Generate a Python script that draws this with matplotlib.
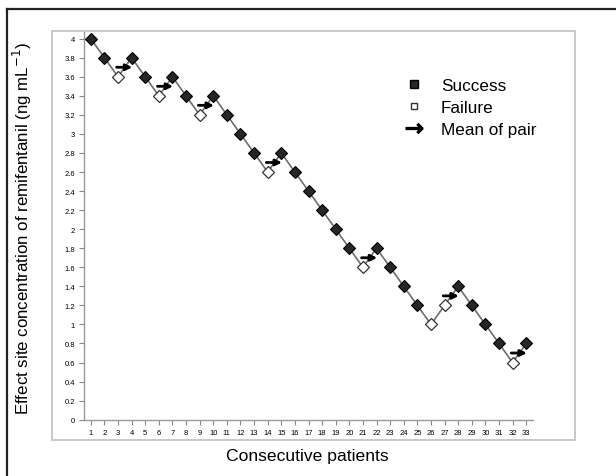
import numpy as np
import matplotlib.pyplot as plt
from matplotlib.lines import Line2D
from matplotlib.patches import Rectangle

plt.rcParams['font.family'] = ['Liberation Sans', 'DejaVu Sans']

# up-and-down sequence, one value per patient
patients = np.arange(1, 34)
conc = [4.0, 3.8, 3.6, 3.8, 3.6, 3.4, 3.6, 3.4, 3.2, 3.4, 3.2, 3.0, 2.8, 2.6, 2.8, 2.6, 2.4,
        2.2, 2.0, 1.8, 1.6, 1.8, 1.6, 1.4, 1.2, 1.0, 1.2, 1.4, 1.2, 1.0, 0.8, 0.6, 0.8]
failures = [3, 6, 9, 14, 21, 26, 27, 32]
# mean of each failure/success crossover pair
pair_start = [3, 6, 9, 14, 21, 27, 32]
pair_mean = [3.7, 3.5, 3.3, 2.7, 1.7, 1.3, 0.7]

conc = np.array(conc)
fail_mask = np.isin(patients, failures)

fig = plt.figure(figsize=(6.16, 4.77), dpi=100)

# outer frame (top + left) and inner chart box
fig.add_artist(Line2D([7/616, 1], [1-10/477, 1-10/477], color='#222222', lw=1.6))
fig.add_artist(Line2D([7/616, 7/616], [0, 1-10/477], color='#222222', lw=1.6))
fig.add_artist(Rectangle((52/616, 1-441/477), (575-52)/616, (441-32)/477,
                         fill=False, ec='#c4c4c4', lw=1.3))

ax = fig.add_axes([84/616, 1-420.7/477, (533-84)/616, (420.7-33)/477])

ax.plot(patients, conc, color='#6e6e6e', lw=1.2, zorder=2)
ax.plot(patients[~fail_mask], conc[~fail_mask], ls='none', marker='D', ms=6.5,
        mfc='#262626', mec='black', mew=0.8, zorder=3)
ax.plot(patients[fail_mask], conc[fail_mask], ls='none', marker='D', ms=6.5,
        mfc='white', mec='#333333', mew=0.9, zorder=3)

for xs, ym in zip(pair_start, pair_mean):
    ax.annotate('', xy=(xs + 1.05, ym), xytext=(xs - 0.1, ym),
                arrowprops=dict(arrowstyle='-|>', lw=2, color='black',
                                mutation_scale=9, shrinkA=0, shrinkB=0), zorder=4)

ax.set_xlim(0.5, 33.5)
ax.set_ylim(0, 4.07)
ax.set_xticks(patients)
ax.set_xticklabels([str(p) for p in patients])
yt = np.round(np.arange(0, 4.01, 0.2), 1)
ax.set_yticks(yt)
ax.set_yticklabels(['%g' % v for v in yt])
ax.tick_params(labelsize=5.5, length=3.5, width=0.8, color='#888888', pad=3)
for s in ['top', 'right']:
    ax.spines[s].set_visible(False)
for s in ['left', 'bottom']:
    ax.spines[s].set_color('#999999')
    ax.spines[s].set_linewidth(1.0)

fig.text(22/616, 1-229/477, 'Effect site concentration of remifentanil (ng mL$^{-1}$)',
         rotation=90, ha='center', va='center', fontsize=12.2)
fig.text(307/616, 1-457/477, 'Consecutive patients', ha='center', va='center', fontsize=12.6)

handles = [Line2D([], [], ls='none', marker='s', ms=6, mfc='#262626', mec='black'),
           Line2D([], [], ls='none', marker='s', ms=5, mfc='white', mec='#333333'),
           Line2D([], [], ls='none', marker=r'$\rightarrow$', ms=12, color='black')]
fig.legend(handles, ['Success', 'Failure', 'Mean of pair'], loc='upper left',
           bbox_to_anchor=(395/616, 1-70/477), frameon=False, fontsize=12.3,
           handlelength=1.2, handletextpad=1.0, labelspacing=0.42, borderpad=0)

fig.savefig('out.png', dpi=100)
